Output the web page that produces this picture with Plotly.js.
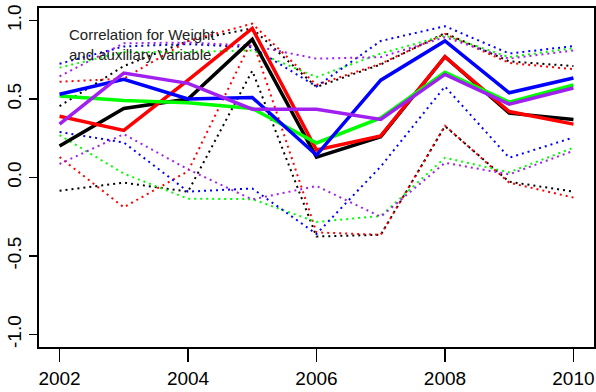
<!DOCTYPE html>
<html>
<head>
<meta charset="utf-8">
<script src="https://cdn.plot.ly/plotly-3.0.1.min.js"></script>
<style>html,body{margin:0;padding:0;background:#fff;}#chart{width:596px;height:392px;}</style>
</head>
<body>
<div id="chart"></div>
<script>
const years = [2002, 2003, 2004, 2005, 2006, 2007, 2008, 2009, 2010];

const blackMid  = [0.20, 0.44, 0.50, 0.88, 0.13, 0.26, 0.77, 0.41, 0.37];
const redMid    = [0.39, 0.30, 0.62, 0.95, 0.175, 0.265, 0.77, 0.42, 0.34];
const greenMid  = [0.52, 0.49, 0.477, 0.44, 0.22, 0.38, 0.67, 0.48, 0.59];
const blueMid   = [0.53, 0.625, 0.50, 0.51, 0.143, 0.62, 0.87, 0.54, 0.634];
const purpleMid = [0.34, 0.665, 0.60, 0.435, 0.435, 0.37, 0.657, 0.467, 0.57];

const blackUp  = [0.455, 0.71, 0.87, 0.95, 0.577, 0.72, 0.92, 0.74, 0.71];
const redUp    = [0.61, 0.63, 0.87, 0.98, 0.59, 0.725, 0.915, 0.73, 0.69];
const greenUp  = [0.70, 0.80, 0.80, 0.81, 0.64, 0.79, 0.905, 0.767, 0.824];
const blueUp   = [0.725, 0.835, 0.85, 0.83, 0.58, 0.87, 0.964, 0.79, 0.837];
const purpleUp = [0.645, 0.855, 0.86, 0.84, 0.757, 0.767, 0.894, 0.757, 0.81];

const blackLo  = [-0.084, -0.033, -0.09, 0.68, -0.376, -0.365, 0.327, -0.027, -0.09];
const redLo    = [0.13, -0.19, 0.04, 0.88, -0.35, -0.365, 0.33, -0.033, -0.128];
const greenLo  = [0.27, 0.025, -0.135, -0.138, -0.283, -0.245, 0.126, 0.033, 0.19];
const blueLo   = [0.29, 0.223, -0.09, -0.07, -0.36, 0.07, 0.58, 0.126, 0.255];
const purpleLo = [0.086, 0.276, 0.052, -0.14, -0.054, -0.25, 0.094, 0.02, 0.17];

const xTicks = [2002, 2004, 2006, 2008, 2010];
const yTickVals = [-1, -0.5, 0, 0.5, 1];
const yTickText = ["-1.0", "-0.5", "0.0", "0.5", "1.0"];
const titleLines = ["Correlation for Weight", "and auxillary Variable"];

const series = [
  {color: "#000000", mid: blackMid, up: blackUp, lo: blackLo},
  {color: "#ff0000", mid: redMid, up: redUp, lo: redLo},
  {color: "#00ff00", mid: greenMid, up: greenUp, lo: greenLo},
  {color: "#0000ff", mid: blueMid, up: blueUp, lo: blueLo},
  {color: "#a020f0", mid: purpleMid, up: purpleUp, lo: purpleLo}
];

const traces = [];
series.forEach(s => {
  [s.up, s.lo].forEach(arr => traces.push({
    x: years, y: arr, mode: "lines", type: "scatter", hoverinfo: "skip",
    line: {color: s.color, width: 2, dash: "2px,4px"}
  }));
});
series.forEach(s => traces.push({
  x: years, y: s.mid, mode: "lines", type: "scatter", hoverinfo: "skip",
  line: {color: s.color, width: 3.5}
}));

const font = {family: "Liberation Sans, Arial, Helvetica, sans-serif", color: "#000"};

const layout = {
  width: 596, height: 392,
  margin: {l: 39, r: 2, t: 8, b: 45},
  paper_bgcolor: "#fff", plot_bgcolor: "#fff",
  showlegend: false,
  font: font,
  xaxis: {
    range: [2001.68, 2010.32], tickvals: xTicks, ticktext: xTicks.map(String),
    showgrid: false, zeroline: false, showline: true, mirror: true,
    linecolor: "#000", linewidth: 2, ticks: "outside", ticklen: 13, tickwidth: 1.5, tickcolor: "#000",
    tickfont: {family: font.family, size: 19, color: "#000"}
  },
  yaxis: {
    range: [-1.08, 1.08], tickvals: yTickVals, ticktext: yTickText, tickangle: -90,
    showgrid: false, zeroline: false, showline: true, mirror: true,
    linecolor: "#000", linewidth: 2, ticks: "outside", ticklen: 8, tickwidth: 1.5, tickcolor: "#000",
    tickfont: {family: font.family, size: 19, color: "#000"}
  },
  annotations: [{
    xref: "x", yref: "y", x: 2002.12, y: 0.975, xanchor: "left", yanchor: "top",
    align: "left", showarrow: false, text: titleLines.join("<br>"),
    font: {family: font.family, size: 15, color: "#222"}
  }]
};

Plotly.newPlot("chart", traces, layout, {staticPlot: true, displayModeBar: false});
</script>
</body>
</html>
